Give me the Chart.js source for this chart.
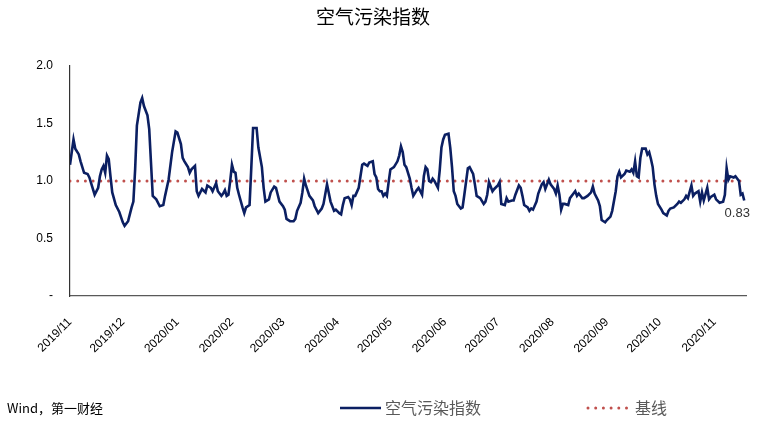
<!DOCTYPE html>
<html>
<head>
<meta charset="utf-8">
<script src="https://cdn.jsdelivr.net/npm/chart.js@4/dist/chart.umd.min.js"></script>
<style>
  html, body { margin: 0; padding: 0; background: #fff; }
  #wrap { width: 764px; height: 429px; }
</style>
</head>
<body>
<div id="wrap"><canvas id="airChart" width="764" height="429"></canvas></div>
<script>
/************ DATA ************/
const chartTitle = "空气污染指数";
const seriesName = "空气污染指数";
const baselineName = "基线";
const sourceText = "Wind，第一财经";

// days since 2019-11-01
const dayOffsets = [
  0, 2, 3, 5, 6, 8, 10, 11, 14, 16, 17, 18, 19, 20, 21, 22, 23, 24, 26, 28,
  30, 31, 33, 35, 36, 37, 38, 40, 41, 42, 44, 45, 46, 47, 49, 51, 53, 54, 56, 58,
  60, 61, 63, 64, 65, 67, 68, 69, 71, 72, 73, 75, 77, 78, 80, 81, 83, 84, 86, 87,
  88, 89, 90, 91, 92, 93, 94, 95, 96, 98, 99, 100, 102, 103, 104, 106, 107, 109, 110, 111,
  113, 114, 116, 117, 118, 119, 121, 122, 123, 125, 127, 128, 129, 131, 132, 133, 134, 136, 138, 139,
  141, 143, 144, 146, 148, 150, 151, 153, 154, 155, 156, 158, 159, 160, 161, 162, 164, 165, 166, 167,
  169, 170, 172, 173, 174, 175, 176, 177, 178, 179, 180, 181, 182, 184, 186, 187, 188, 189, 190, 191,
  193, 194, 195, 197, 198, 200, 201, 202, 203, 204, 205, 206, 207, 209, 210, 211, 212, 213, 215, 216,
  217, 218, 219, 220, 222, 223, 224, 226, 227, 229, 230, 231, 233, 235, 236, 237, 238, 240, 241, 243,
  244, 245, 247, 248, 249, 251, 252, 253, 255, 256, 257, 258, 260, 261, 262, 263, 265, 266, 268, 269,
  270, 271, 272, 273, 275, 276, 277, 278, 279, 280, 281, 283, 284, 286, 287, 288, 289, 291, 292, 294,
  296, 297, 298, 300, 301, 302, 304, 305, 307, 308, 310, 311, 312, 313, 315, 316, 318, 319, 320, 321,
  322, 323, 324, 325, 327, 328, 329, 330, 331, 332, 333, 334, 336, 337, 339, 340, 341, 343, 345, 346,
  347, 349, 350, 351, 353, 354, 355, 357, 358, 359, 360, 362, 363, 364, 366, 367, 369, 371, 372, 373,
  374, 375, 377, 378, 380, 381, 382, 383
];

const indexValues = [
  1.14, 1.36, 1.28, 1.23, 1.17, 1.07, 1.06, 1.03, 0.88, 0.94, 1.04, 1.10, 1.13, 1.07, 1.22, 1.19, 1.04, 0.90, 0.79, 0.73,
  0.64, 0.61, 0.65, 0.77, 0.82, 1.10, 1.48, 1.68, 1.72, 1.65, 1.57, 1.45, 1.16, 0.87, 0.84, 0.78, 0.79, 0.87, 1.01, 1.25,
  1.43, 1.42, 1.32, 1.20, 1.17, 1.12, 1.07, 1.10, 1.13, 0.91, 0.87, 0.93, 0.90, 0.96, 0.94, 0.91, 0.98, 0.91, 0.87, 0.89,
  0.92, 0.87, 0.88, 1.00, 1.14, 1.08, 1.07, 0.94, 0.88, 0.77, 0.72, 0.77, 0.79, 1.12, 1.46, 1.46, 1.29, 1.12, 0.94, 0.82,
  0.84, 0.90, 0.95, 0.94, 0.88, 0.82, 0.78, 0.75, 0.67, 0.65, 0.65, 0.67, 0.74, 0.81, 0.90, 1.02, 0.96, 0.87, 0.83, 0.78,
  0.72, 0.76, 0.80, 0.97, 0.82, 0.74, 0.75, 0.72, 0.71, 0.79, 0.85, 0.86, 0.84, 0.79, 0.87, 0.87, 0.94, 1.04, 1.14, 1.15,
  1.13, 1.16, 1.17, 1.06, 1.03, 0.93, 0.91, 0.91, 0.87, 0.89, 0.87, 0.99, 1.10, 1.12, 1.17, 1.22, 1.30, 1.25, 1.14, 1.12,
  1.02, 0.94, 0.87, 0.92, 0.94, 0.88, 1.04, 1.12, 1.10, 1.00, 0.99, 1.02, 1.00, 0.94, 1.09, 1.29, 1.36, 1.40, 1.41, 1.29,
  1.12, 0.91, 0.87, 0.80, 0.76, 0.77, 0.88, 1.11, 1.12, 1.06, 0.97, 0.87, 0.85, 0.80, 0.82, 0.88, 0.99, 0.91, 0.93, 0.96,
  0.99, 0.80, 0.79, 0.85, 0.82, 0.83, 0.83, 0.88, 0.96, 0.94, 0.87, 0.79, 0.77, 0.74, 0.76, 0.75, 0.82, 0.89, 0.97, 0.99,
  0.93, 0.97, 1.01, 0.97, 0.93, 0.89, 0.96, 0.88, 0.75, 0.80, 0.80, 0.79, 0.85, 0.89, 0.91, 0.87, 0.89, 0.85, 0.85, 0.87,
  0.90, 0.95, 0.89, 0.83, 0.78, 0.66, 0.64, 0.66, 0.69, 0.74, 0.91, 1.04, 1.08, 1.03, 1.06, 1.09, 1.08, 1.10, 1.07, 1.17,
  1.04, 1.03, 1.20, 1.28, 1.28, 1.23, 1.25, 1.19, 1.12, 0.97, 0.87, 0.80, 0.75, 0.72, 0.70, 0.74, 0.76, 0.77, 0.80, 0.82,
  0.81, 0.84, 0.87, 0.85, 0.96, 0.87, 0.89, 0.91, 0.82, 0.90, 0.83, 0.94, 0.84, 0.86, 0.88, 0.84, 0.81, 0.82, 0.88, 1.11,
  1.01, 1.04, 1.03, 1.04, 1.00, 0.88, 0.89, 0.83
];

const baselineValue = 1.0;

const monthStarts = [0, 30, 61, 92, 121, 152, 182, 213, 243, 274, 305, 335, 366];
const monthLabels = [
  "2019/11", "2019/12", "2020/01", "2020/02", "2020/03", "2020/04", "2020/05",
  "2020/06", "2020/07", "2020/08", "2020/09", "2020/10", "2020/11"
];

const yTicks = [0, 0.5, 1.0, 1.5, 2.0];

/************ STYLE ************/
const NAVY = "#0B1F62";
const RED = "#C0504D";
const FONT = "'Liberation Sans', Arial, sans-serif";
const CJK = "'Noto Sans CJK SC', sans-serif";

const seriesPoints = dayOffsets.map((d, i) => ({ x: d, y: indexValues[i] }));
const xMax = dayOffsets[dayOffsets.length - 1];
const baselinePoints = [{ x: 0, y: baselineValue }, { x: xMax + 1, y: baselineValue }];

/************ PLUGIN: end label, legend, source ************/
const notesPlugin = {
  id: "notes",
  afterDatasetsDraw(chart) {
    const ctx = chart.ctx;
    const meta = chart.getDatasetMeta(0);
    const last = meta.data[meta.data.length - 1];
    ctx.save();
    ctx.font = "13px " + FONT;
    ctx.fillStyle = "#333";
    ctx.textAlign = "center";
    ctx.textBaseline = "middle";
    ctx.fillText(indexValues[indexValues.length - 1].toFixed(2), last.x - 7, last.y + 13);
    ctx.restore();
  },
  afterDraw(chart) {
    const ctx = chart.ctx;
    const ds = chart.data.datasets;
    const y = 408;
    ctx.save();
    // source
    ctx.font = "13px " + CJK;
    ctx.fillStyle = "#000";
    ctx.textBaseline = "middle";
    ctx.textAlign = "left";
    ctx.fillText(sourceText, 7, y);

    // legend: series
    ctx.lineWidth = ds[0].borderWidth;
    ctx.strokeStyle = ds[0].borderColor;
    ctx.beginPath();
    ctx.moveTo(340, y);
    ctx.lineTo(381, y);
    ctx.stroke();
    ctx.font = "16px " + CJK;
    ctx.fillStyle = "#595959";
    ctx.fillText(ds[0].label, 385, y);

    // legend: baseline
    ctx.lineWidth = ds[1].borderWidth;
    ctx.strokeStyle = ds[1].borderColor;
    ctx.lineCap = "round";
    ctx.setLineDash(ds[1].borderDash);
    ctx.beginPath();
    ctx.moveTo(588, y);
    ctx.lineTo(630, y);
    ctx.stroke();
    ctx.setLineDash([]);
    ctx.fillText(ds[1].label, 635, y);
    ctx.restore();
  }
};

/************ CHART ************/
new Chart(document.getElementById("airChart"), {
  type: "line",
  data: {
    datasets: [
      {
        label: seriesName,
        data: seriesPoints,
        borderColor: NAVY,
        borderWidth: 2.6,
        pointRadius: 0,
        tension: 0,
        fill: false
      },
      {
        label: baselineName,
        data: baselinePoints,
        borderColor: RED,
        borderWidth: 3,
        borderDash: [0, 7.7],
        borderCapStyle: "round",
        pointRadius: 0,
        fill: false
      }
    ]
  },
  options: {
    responsive: false,
    animation: false,
    layout: { padding: { left: 0, right: 18, top: 0, bottom: 0 } },
    plugins: {
      legend: { display: false },
      tooltip: { enabled: false },
      title: {
        display: true,
        text: chartTitle,
        color: "#000",
        font: { family: CJK, size: 19, weight: "normal" },
        padding: { top: 5, bottom: 38 }
      }
    },
    scales: {
      x: {
        type: "linear",
        min: 0,
        max: xMax + 1,
        grid: { display: false, drawTicks: false },
        border: { display: true, color: "#595959", width: 1.2 },
        afterBuildTicks(scale) {
          scale.ticks = monthStarts.map(v => ({ value: v }));
        },
        afterFit(scale) { scale.height = 133; },
        ticks: {
          autoSkip: false,
          minRotation: 45,
          maxRotation: 45,
          padding: 19,
          color: "#000",
          font: { family: FONT, size: 12 },
          callback: v => monthLabels[monthStarts.indexOf(v)]
        }
      },
      y: {
        min: 0,
        max: 2,
        grid: { display: false, drawTicks: false },
        border: { display: true, color: "#333", width: 1.2 },
        afterBuildTicks(scale) {
          scale.ticks = yTicks.map(v => ({ value: v }));
        },
        afterFit(scale) { scale.width = 70; },
        ticks: {
          padding: 17,
          color: "#000",
          font: { family: FONT, size: 12 },
          callback: v => (v === 0 ? "-" : v.toFixed(1))
        }
      }
    }
  },
  plugins: [notesPlugin]
});
</script>
</body>
</html>
